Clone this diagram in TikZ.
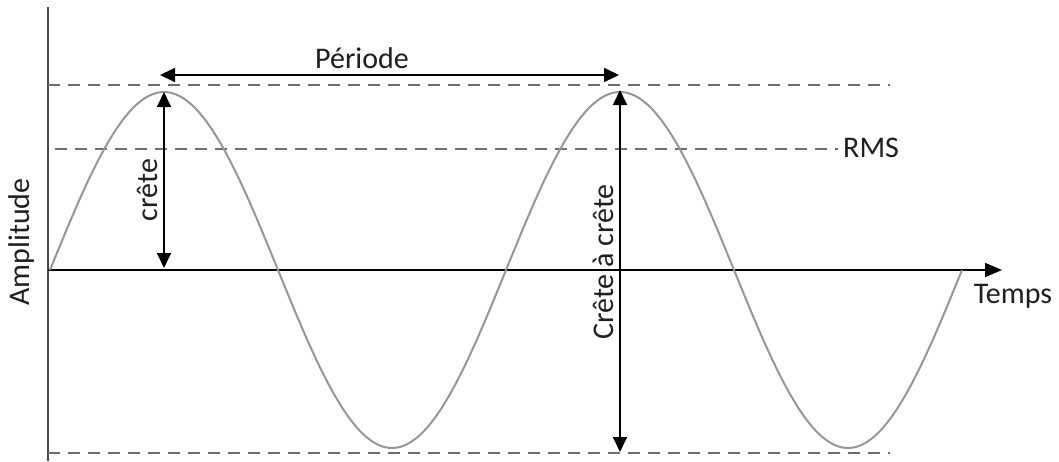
\documentclass[tikz,border=0pt]{standalone}
\usepackage{fontspec}
\setmainfont{Carlito}
\usepackage{tikz}
\usetikzlibrary{arrows.meta,positioning,calc}
\definecolor{waveGray}{RGB}{150,150,150}
\definecolor{dashGray}{RGB}{110,110,110}
\definecolor{axisGray}{RGB}{70,70,70}
\definecolor{textDark}{RGB}{30,30,30}
\tikzset{
  dimarrow/.style={black, line width=1.8pt, {Triangle[length=15pt,width=14pt]}-{Triangle[length=15pt,width=14pt]}},
  guideline/.style={dashGray, line width=1.8pt, dash pattern=on 12pt off 8pt},
  lbl/.style={text=textDark, font=\fontsize{30}{32}\selectfont, inner sep=0pt}
}

\begin{document}
\begin{tikzpicture}[x=1pt,y=-1pt]
    \useasboundingbox (0,0) rectangle (1059,461);
    \coordinate (O) at (48,270);
    \coordinate (Ytop) at (48,7);
    \coordinate (Ybot) at (48,461);
    \coordinate (Xend) at (1002,270);
    \coordinate (P1) at (164,92);
    \coordinate (P2) at (620,90);
    \coordinate (P1base) at (164,268);
    \coordinate (Tr) at (620,452);
    \coordinate (Pleft) at (160,75);
    \coordinate (Pright) at (619,75);
    % axes
    \draw[axisGray, line width=2.6pt] (Ybot) -- (Ytop);
    \draw[black, line width=1.8pt, -{Triangle[length=17pt,width=14pt]}] (O) -- (Xend);
    % guide lines
    \draw[guideline] (48,85) -- (890,85);
    \draw[guideline] (55,149) -- (838,149);
    \draw[guideline] (48,453) -- (890,453);
    % wave
    \draw[waveGray, line width=2pt] plot[domain=50:962, samples=240, smooth] (\x, {270-178*sin((\x-50)/456*360)});
    % dimensions
    \draw[dimarrow] (Pleft) -- (Pright);
    \draw[dimarrow] (P1) -- (P1base);
    \draw[dimarrow] (P2) -- (Tr);
    \node[lbl] (periode) at (362,58) {Période};
    \node[lbl, anchor=west] (rms) at (843,148) {RMS};
    \node[lbl] (temps) at (1013,296) {Temps};
    \node[lbl, rotate=90] (ampl) at (22,242) {Amplitude};
    \node[lbl, rotate=90] (crete) at (147,190) {crête};
    \node[lbl, rotate=90] (cac) at (603,262) {Crête à crête};
\end{tikzpicture}
\end{document}
